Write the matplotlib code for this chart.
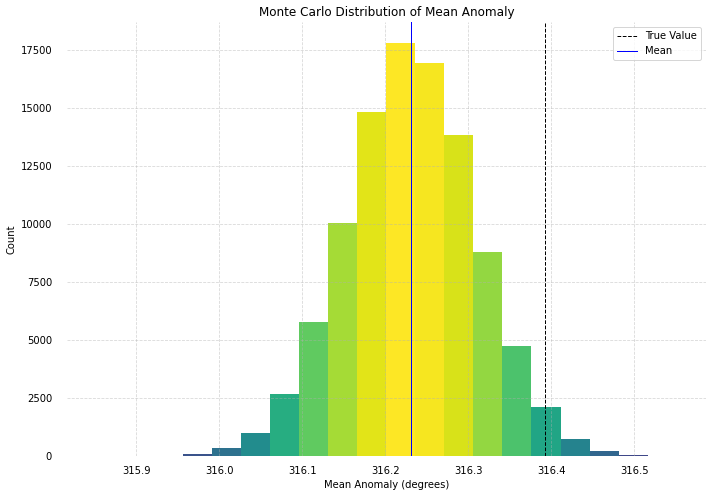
import numpy as np
import matplotlib
matplotlib.use("Agg")
import matplotlib.pyplot as plt
from matplotlib import colors as mcolors

# Histogram data (16 equal-width bins)
bin_start = 315.9563
bin_end = 316.5161
counts = [75, 330, 980, 2675, 5780, 10050, 14840, 17815,
          16950, 13845, 8800, 4745, 2100, 720, 200, 40]
true_value = 316.3928
mean_value = 316.2313
xticks = [315.9, 316.0, 316.1, 316.2, 316.3, 316.4, 316.5]
yticks = [0, 2500, 5000, 7500, 10000, 12500, 15000, 17500]

edges = np.linspace(bin_start, bin_end, len(counts) + 1)
centers = 0.5 * (edges[:-1] + edges[1:])

fig = plt.figure(figsize=(712 / 72, 496 / 72), dpi=72)
ax = fig.add_axes([67 / 712, 40 / 496, (706 - 67) / 712, (474 - 40) / 496])

n, bins, patches = ax.hist(centers, bins=edges, weights=counts, zorder=1)
norm = mcolors.PowerNorm(gamma=0.25, vmin=0, vmax=max(counts))
cmap = plt.get_cmap("viridis")
for c, p in zip(n, patches):
    p.set_facecolor(cmap(norm(c)))

ax.axvline(true_value, color="black", linestyle="--", linewidth=1, label="True Value", zorder=3)
ax.axvline(mean_value, color="blue", linestyle="-", linewidth=1, label="Mean", zorder=3)

ax.set_xlim(315.8165, 316.5864)
ax.set_xticks(xticks)
ax.set_xticklabels([f"{t:.1f}" for t in xticks])
ax.set_yticks(yticks)
ax.tick_params(axis="x", length=0, labelsize=10, pad=10)
ax.tick_params(axis="y", length=0, labelsize=10, pad=15)
ax.set_axisbelow(False)
ax.grid(True, linestyle="--", color="#b0b0b0", linewidth=0.8, alpha=0.5, zorder=2)
for s in ax.spines.values():
    s.set_visible(False)

ax.set_title("Monte Carlo Distribution of Mean Anomaly", fontsize=12)
ax.set_xlabel("Mean Anomaly (degrees)", fontsize=10)
ax.set_ylabel("Count", fontsize=10)
ax.legend(loc="upper right", fontsize=10)

fig.savefig("out.png", dpi=72)
